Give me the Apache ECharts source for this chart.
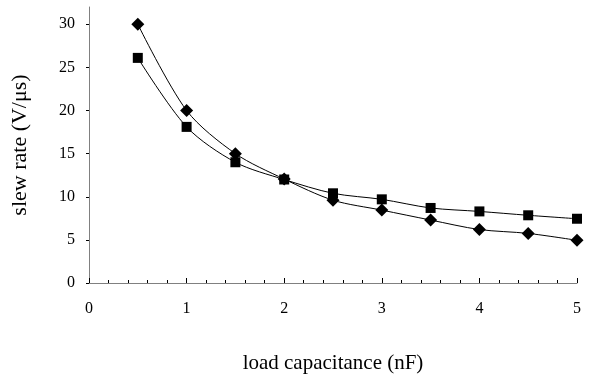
<!DOCTYPE html>
<html>
<head>
<meta charset="utf-8">
<script src="https://cdn.jsdelivr.net/npm/echarts@6/dist/echarts.min.js"></script>
<style>
  html, body { margin: 0; padding: 0; background: #fff; }
  #chart { width: 592px; height: 381px; }
</style>
</head>
<body>
<div id="chart"></div>
<script>
// load capacitance (nF)
const capacitance = [0.5, 1, 1.5, 2, 2.5, 3, 3.5, 4, 4.5, 5];
// slew rate series (V/us)
const diamondRate = [30, 20, 15, 12.05, 9.6, 8.45, 7.3, 6.2, 5.75, 4.95];
const squareRate = [26.1, 18.1, 14.0, 12.0, 10.4, 9.7, 8.7, 8.3, 7.85, 7.45];
const yTicks = [0, 5, 10, 15, 20, 25, 30];
const xTicks = [0, 1, 2, 3, 4, 5];

const font = 'Liberation Serif, Times New Roman, serif';
const axisGrey = '#808080';

function pairs(xs, ys) {
  return xs.map((x, i) => [x, ys[i]]);
}

const chart = echarts.init(document.getElementById('chart'));
chart.setOption({
  backgroundColor: '#fff',
  animation: false,
  grid: { left: 89, right: 15, top: 7, bottom: 98 },
  xAxis: {
    type: 'value',
    min: 0,
    max: 5,
    interval: 1,
    name: 'load capacitance (nF)',
    nameLocation: 'middle',
    nameGap: 70,
    nameTextStyle: { fontFamily: font, fontSize: 21, color: '#000' },
    axisLine: { lineStyle: { color: axisGrey, width: 1 } },
    axisTick: { inside: true, length: 5, lineStyle: { color: '#000' } },
    minorTick: { show: true, splitNumber: 5, length: 3, lineStyle: { color: '#000' } },
    splitLine: { show: false },
    axisLabel: {
      customValues: xTicks,
      margin: 18,
      fontFamily: font,
      fontSize: 16,
      color: '#000'
    }
  },
  yAxis: {
    type: 'value',
    min: 0,
    max: 32,
    name: 'slew rate (V/μs)',
    nameLocation: 'middle',
    nameGap: 58,
    nameTextStyle: { fontFamily: font, fontSize: 22, color: '#000' },
    axisLine: { show: true, lineStyle: { color: axisGrey, width: 1 } },
    axisTick: { show: true, customValues: yTicks, length: 3, lineStyle: { color: '#000' } },
    splitLine: { show: false },
    axisLabel: {
      customValues: yTicks,
      margin: 14,
      fontFamily: font,
      fontSize: 16,
      color: '#000'
    }
  },
  series: [
    {
      type: 'line',
      data: pairs(capacitance, diamondRate),
      smooth: 0.3,
      symbol: 'diamond',
      symbolSize: 13,
      lineStyle: { color: '#000', width: 1 },
      itemStyle: { color: '#000' }
    },
    {
      type: 'line',
      data: pairs(capacitance, squareRate),
      smooth: 0.3,
      symbol: 'rect',
      symbolSize: 10,
      lineStyle: { color: '#000', width: 1 },
      itemStyle: { color: '#000' }
    }
  ]
});
</script>
</body>
</html>
